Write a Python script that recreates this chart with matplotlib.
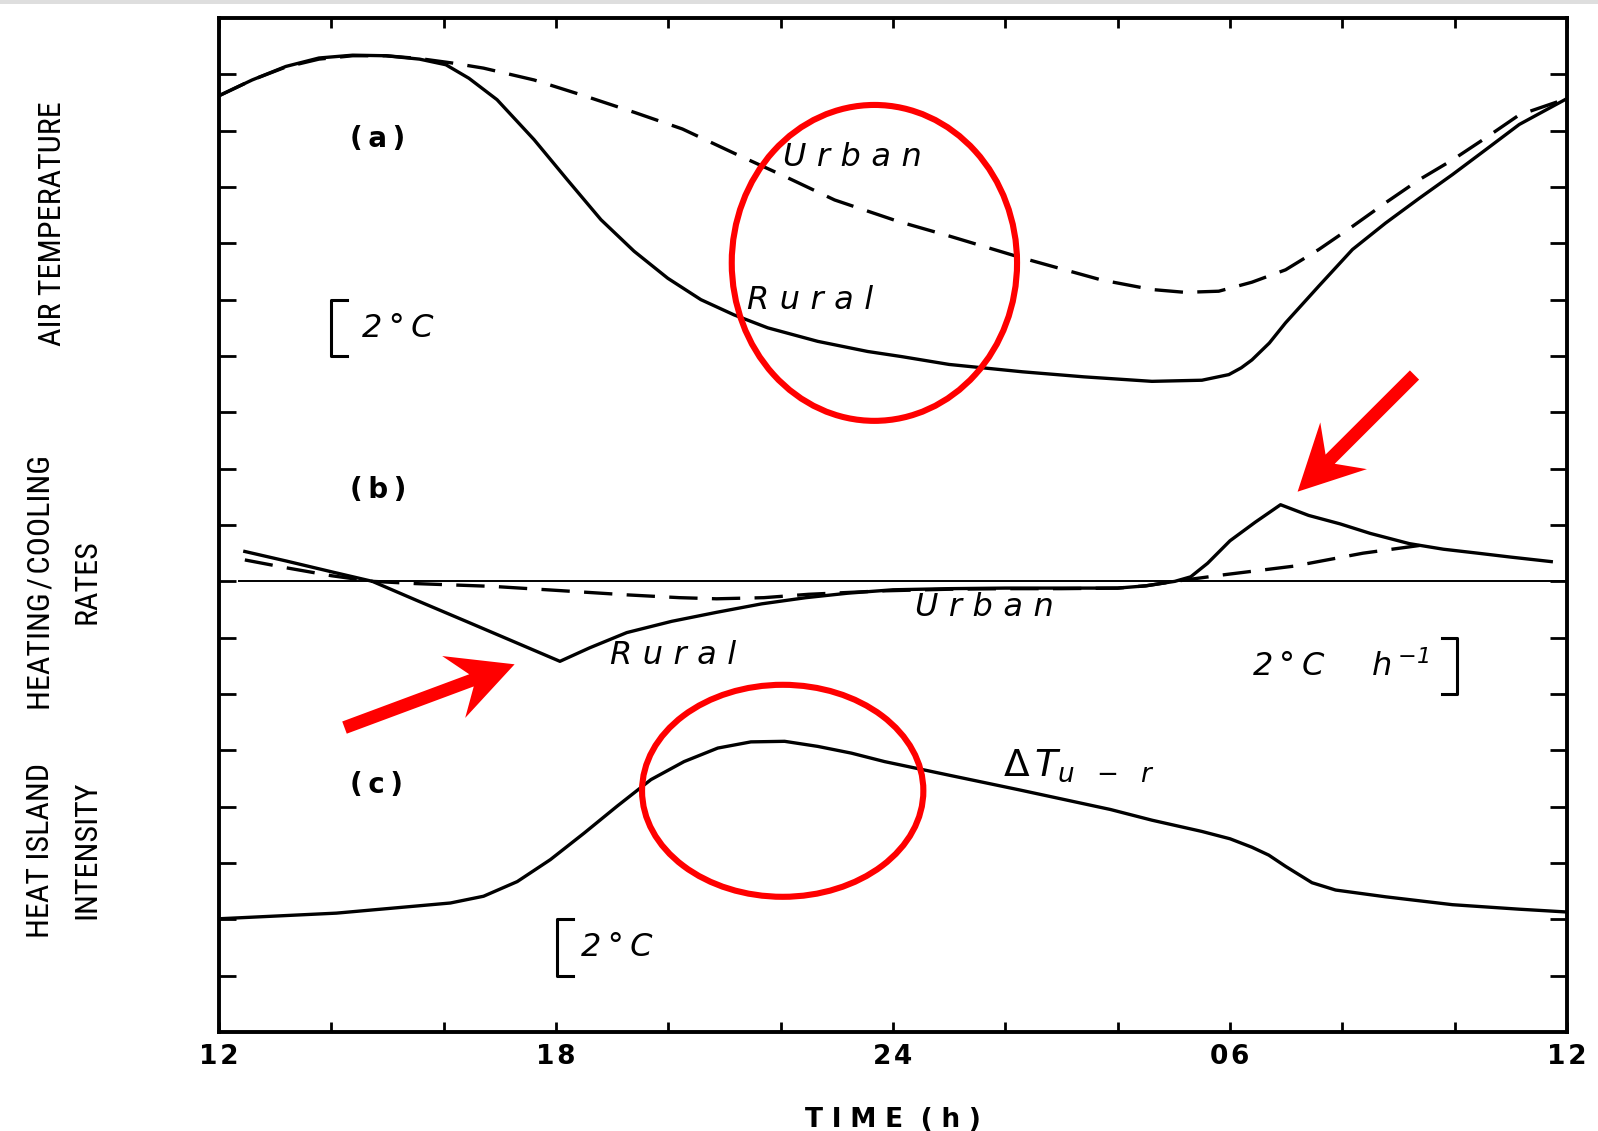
import numpy as np
import matplotlib
matplotlib.use("Agg")
import matplotlib.pyplot as plt
from matplotlib import font_manager
from matplotlib.patches import Ellipse, Polygon, Rectangle
from matplotlib.transforms import Affine2D

# ---------------- data ----------------
# (a) air temperature, degC above the panel baseline
hours_a_rural = [12.0, 12.59, 13.19, 13.78, 14.38, 14.97, 15.57, 16.04, 16.45, 16.95, 17.35,
                 17.61, 18.2, 18.8, 19.39, 19.99, 20.58, 21.17, 21.77, 22.66, 23.55, 24.15,
                 25.0, 26.3, 27.4, 28.61, 29.5, 29.98, 30.2, 30.39, 30.7, 30.99, 31.58, 32.18,
                 32.77, 33.37, 33.96, 34.55, 35.15, 36.0]
temp_rural = [11.24, 11.80, 12.28, 12.58, 12.68, 12.66, 12.54, 12.34, 11.86, 11.10, 10.24,
              9.68, 8.26, 6.84, 5.72, 4.76, 4.00, 3.46, 3.00, 2.52, 2.16, 1.98,
              1.70, 1.44, 1.26, 1.10, 1.14, 1.34, 1.58, 1.86, 2.46, 3.18, 4.48, 5.78,
              6.72, 7.60, 8.44, 9.32, 10.22, 11.14]

hours_a_urban = [12.0, 12.59, 13.19, 13.78, 14.38, 14.97, 15.57, 16.16, 16.71, 17.61, 18.5,
                 19.41, 20.25, 21.17, 22.07, 22.96, 24.09, 25.0, 26.3, 27.71, 28.61, 29.2,
                 29.8, 30.39, 30.99, 31.58, 32.18, 32.77, 33.37, 33.96, 34.55, 35.15, 36.0]
temp_urban = [11.24, 11.80, 12.26, 12.54, 12.66, 12.66, 12.56, 12.40, 12.22, 11.80, 11.24,
              10.64, 10.06, 9.20, 8.38, 7.54, 6.78, 6.26, 5.48, 4.70, 4.36, 4.26,
              4.30, 4.62, 5.06, 5.78, 6.60, 7.44, 8.26, 8.96, 9.74, 10.56, 11.14]

# (b) heating / cooling rates, degC per hour
hours_b_rural = [12.46, 13.2, 14.0, 14.73, 15.5, 16.4, 17.2, 18.07, 18.6, 19.26, 20.06, 20.86,
                 21.66, 22.45, 23.2, 24.0, 25.0, 26.0, 27.0, 28.0, 28.5, 29.02, 29.3, 29.6,
                 30.0, 30.45, 30.9, 31.4, 31.96, 32.5, 33.19, 33.8, 34.41, 35.0, 35.72]
rate_rural = [1.06, 0.72, 0.34, 0.00, -0.66, -1.42, -2.10, -2.84, -2.36, -1.82, -1.42, -1.10,
              -0.80, -0.58, -0.42, -0.30, -0.26, -0.24, -0.24, -0.24, -0.16, 0.00, 0.16, 0.64,
              1.44, 2.10, 2.72, 2.34, 2.04, 1.70, 1.34, 1.14, 1.00, 0.86, 0.70]

hours_b_urban = [12.46, 13.2, 14.0, 14.73, 15.5, 16.88, 18.0, 19.26, 20.2, 20.86, 21.7, 22.5,
                 23.79, 25.0, 26.0, 27.0, 28.0, 28.5, 29.02, 29.92, 31.14, 32.37, 33.4]
rate_urban = [0.76, 0.48, 0.20, 0.00, -0.08, -0.18, -0.32, -0.48, -0.58, -0.62, -0.58, -0.46,
              -0.34, -0.28, -0.26, -0.26, -0.24, -0.16, 0.00, 0.24, 0.54, 1.00, 1.28]

# (c) heat island intensity, degC above the panel baseline
hours_c = [12.0, 14.09, 16.12, 16.71, 17.31, 17.9, 18.5, 19.09, 19.69, 20.28, 20.88, 21.47,
           22.07, 22.66, 23.26, 23.85, 25.04, 26.24, 27.87, 28.61, 29.5, 30.0, 30.39, 30.69,
           30.99, 31.46, 31.88, 32.77, 33.96, 35.15, 36.0]
dT_urban_rural = [2.02, 2.22, 2.58, 2.82, 3.34, 4.12, 5.06, 6.02, 6.96, 7.60, 8.08, 8.30,
                  8.32, 8.14, 7.90, 7.60, 7.10, 6.60, 5.90, 5.52, 5.12, 4.86, 4.56, 4.28,
                  3.88, 3.30, 3.04, 2.80, 2.52, 2.36, 2.26]

x_ticks = [12, 14, 16, 18, 20, 22, 24, 26, 28, 30, 32, 34, 36]
x_tick_labels = ["12", "", "", "18", "", "", "24", "", "", "06", "", "", "12"]
y_ticks = list(range(1, 18))

SCALE_DEG = 2.0          # degC (or degC/h) per vertical tick interval
# vertical position of each panel's baseline on the shared axis
BASE_A, BASE_B, BASE_C = 11.0, 8.0, 1.0


def to_axis(base, values):
    return base + np.asarray(values) / SCALE_DEG


# ---------------- figure ----------------
W, H = 1598, 1131
fig = plt.figure(figsize=(W / 100, H / 100), dpi=100, facecolor="white")
ax = fig.add_axes([219 / W, 1 - 1032 / H, (1567 - 219) / W, (1032 - 18) / H])
px = Affine2D().scale(1 / W, -1 / H).translate(0, 1) + fig.transFigure

names = {f.name for f in font_manager.fontManager.ttflist}
narrow = next((n for n in ["Liberation Sans Narrow", "Roboto Condensed",
                           "DejaVu Sans Condensed", "Open Sans Condensed"] if n in names),
              "DejaVu Sans")

ink = "black"
lw = 2.4
dash = (0, (8.5, 4.3))

# (a)
ax.plot(hours_a_rural, to_axis(BASE_A, temp_rural), color=ink, lw=lw)
ax.plot(hours_a_urban, to_axis(BASE_A, temp_urban), color=ink, lw=lw, linestyle=dash)
# (b)
ax.plot([12.35, 36], [BASE_B, BASE_B], color=ink, lw=1.4)
ax.plot(hours_b_rural, to_axis(BASE_B, rate_rural), color=ink, lw=lw)
ax.plot(hours_b_urban, to_axis(BASE_B, rate_urban), color=ink, lw=lw, linestyle=dash)
# (c)
ax.plot(hours_c, to_axis(BASE_C, dT_urban_rural), color=ink, lw=lw)

ax.set_xlim(12, 36)
ax.set_ylim(0, 18)
ax.set_xticks(x_ticks)
ax.set_xticklabels(["\u200a".join(t) for t in x_tick_labels], fontsize=19,
                   fontweight="bold", family="DejaVu Sans")
ax.set_yticks(y_ticks)
ax.set_yticklabels([])
ax.tick_params(axis="x", which="both", direction="in", length=7, width=2,
               top=True, bottom=True, pad=9)
ax.tick_params(axis="y", which="both", direction="in", length=12, width=2,
               left=True, right=True)
for s in ax.spines.values():
    s.set_linewidth(2.8)
ax.set_xlabel("\u2004".join("TIME") + "\u2004\u2004" + "\u2004".join("(h)"), fontsize=19,
              fontweight="bold", labelpad=26, family="DejaVu Sans")


def sp(s, gap="\u2004"):
    return gap.join(s)


itx = dict(fontsize=23, style="italic", family="DejaVu Sans", color=ink)

# panel letters
for lab, yy in [("(a)", 15.85), ("(b)", 9.62), ("(c)", 4.38)]:
    ax.text(14.33, yy, sp(lab, "\u2009"), fontsize=20, fontweight="bold", ha="left",
            va="center", family="DejaVu Sans")

ax.text(22.05, 15.52, sp("Urban"), ha="left", va="center", **itx)
ax.text(21.40, 12.99, sp("Rural"), ha="left", va="center", **itx)
ax.text(24.40, 7.53, sp("Urban"), ha="left", va="center", **itx)
ax.text(18.96, 6.68, sp("Rural"), ha="left", va="center", **itx)
ax.text(25.95, 4.72, r"$\Delta\,T_{u\ \ -\ \ r}$", ha="left", va="center", fontsize=27,
        color=ink)

# scale bars: one tick interval = 2 degC (2 degC/h in panel b)
bar = SCALE_DEG / SCALE_DEG
serif = 0.28


def left_bracket(x, y0):
    ax.plot([x + serif, x, x, x + serif], [y0 + bar, y0 + bar, y0, y0], color=ink, lw=2.2)


def right_bracket(x, y0):
    ax.plot([x - serif, x, x, x - serif], [y0 + bar, y0 + bar, y0, y0], color=ink, lw=2.2)


left_bracket(14.0, 12.0)
ax.text(14.55, 12.48, sp("2°C", "\u2009"), ha="left", va="center", **itx)
right_bracket(34.05, 6.0)
ax.text(33.55, 6.48, sp("2°C", "\u2009") + "\u2003\u2002" + r"$h^{\,\mathregular{-1}}$",
        ha="right", va="center", **itx)
left_bracket(18.02, 1.0)
ax.text(18.45, 1.5, sp("2°C", "\u2009"), ha="left", va="center", **itx)

# axis titles on the left
ylab = dict(family=[narrow, "DejaVu Sans"], fontsize=23, rotation=90, ha="center",
            va="center", multialignment="center", linespacing=1.75, transform=px)
fig.text(53, 224, "AIR TEMPERATURE", **ylab)
fig.text(64, 582, "HEATING\u200a/\u200aCOOLING\nRATES", **ylab)
fig.text(64, 850, "HEAT ISLAND\nINTENSITY", **ylab)

# red highlights
red = "#ff0000"
fig.patches.append(Ellipse((874.4, 262.9), 285.3, 315.9, transform=px, fill=False,
                           edgecolor=red, lw=4.4, zorder=10))
fig.patches.append(Ellipse((782.7, 790.8), 281.3, 212.0, transform=px, fill=False,
                           edgecolor=red, lw=4.4, zorder=10))


def arrow_poly(tail, tip, head_len=65, head_half=33, shaft_half=6.5, notch=46):
    t = np.asarray(tail, float)
    p = np.asarray(tip, float)
    d = (p - t) / np.hypot(*(p - t))
    n = np.array([-d[1], d[0]])
    return [p, p - head_len * d + head_half * n, p - notch * d + shaft_half * n,
            t + shaft_half * n, t - shaft_half * n, p - notch * d - shaft_half * n,
            p - head_len * d - head_half * n]


for tail, tip in [((344.5, 727.6), (514.6, 664.3)), ((1414.5, 375.0), (1297.6, 491.7))]:
    fig.patches.append(Polygon(arrow_poly(tail, tip), closed=True, transform=px,
                               facecolor=red, edgecolor="none", zorder=10))

# thin grey strip along the top edge
fig.patches.append(Rectangle((0, 0), W, 4, transform=px, facecolor="#dedede",
                             edgecolor="none"))

fig.savefig("out.png", dpi=100, facecolor="white")
